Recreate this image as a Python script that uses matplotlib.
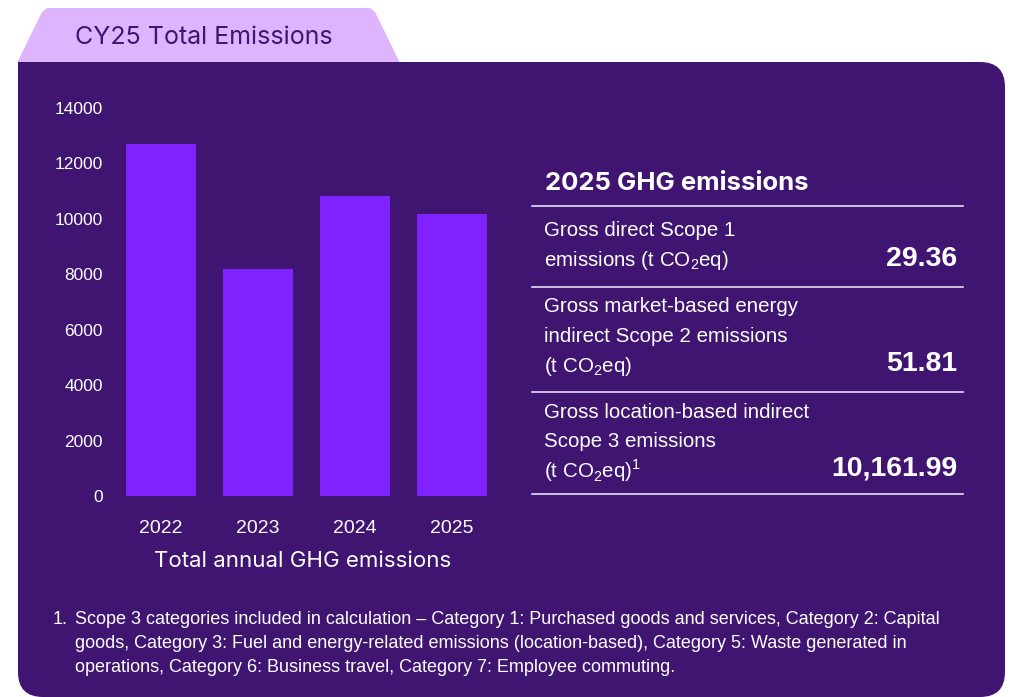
import matplotlib
matplotlib.use('Agg')
import matplotlib.pyplot as plt
from matplotlib.patches import FancyBboxPatch, Polygon, Rectangle

# data
years = ['2022', '2023', '2024', '2025']
totals = [12700, 8190, 10820, 10162]
y_ticks = [0, 2000, 4000, 6000, 8000, 10000, 12000, 14000]

row_labels = [
    ['Gross direct Scope 1', r'emissions (t CO$_\mathregular{2}$eq)'],
    ['Gross market-based energy', 'indirect Scope 2 emissions', r'(t CO$_\mathregular{2}$eq)'],
    ['Gross location-based indirect', 'Scope 3 emissions', r'(t CO$_\mathregular{2}$eq)$^\mathregular{1}$'],
]
row_values = ['29.36', '51.81', '10,161.99']

footnote = ['Scope 3 categories included in calculation \u2013 Category 1: Purchased goods and services, Category 2: Capital',
            'goods, Category 3: Fuel and energy-related emissions (location-based), Category 5: Waste generated in',
            'operations, Category 6: Business travel, Category 7: Employee commuting.']

panel_col = '#401572'
bar_col = '#7F22FE'
tab_col = '#DEB4FF'

plt.rcParams['font.family'] = ['Liberation Sans', 'DejaVu Sans']
plt.rcParams['mathtext.fontset'] = 'custom'
plt.rcParams['mathtext.rm'] = 'Liberation Sans'

W, H = 1017, 697
fig = plt.figure(figsize=(W / 100, H / 100), dpi=100)

# background in pixel coordinates
bg = fig.add_axes([0, 0, 1, 1])
bg.set_xlim(0, W)
bg.set_ylim(H, 0)
bg.axis('off')

bg.add_patch(Polygon([(17, 63), (42, 12), (47, 8), (370, 8), (375, 12), (400, 63)],
                     closed=True, facecolor=tab_col, edgecolor='none'))
bg.add_patch(FancyBboxPatch((43, 62 + 25), 1005 - 43 - 25, 697 - 62 - 50,
                            boxstyle='round,pad=25', facecolor=panel_col, edgecolor='none'))
bg.add_patch(Rectangle((18, 62), 60, 60, facecolor=panel_col, edgecolor='none'))
bg.text(75, 37, 'CY25 Total Emissions', fontsize=18, family=['Inter', 'DejaVu Sans'],
        color=panel_col, va='center', ha='left')

# bar chart
ax = fig.add_axes([112.5 / W, (H - 496) / H, 388 / W, 388 / H])
ax.set_facecolor('none')
ax.bar(range(len(years)), totals, width=0.72, color=bar_col)
ax.set_xlim(-0.5, len(years) - 0.5)
ax.set_ylim(0, 14000)
ax.set_yticks(y_ticks)
ax.set_xticks(range(len(years)))
ax.set_xticklabels(years)
for s in ax.spines.values():
    s.set_visible(False)
ax.tick_params(length=0, colors='white', labelsize=12.5)
ax.tick_params(axis='y', pad=7)
ax.tick_params(axis='x', pad=17, labelsize=14)
bg.text(303, 561, 'Total annual GHG emissions', fontsize=16, family=['Inter', 'DejaVu Sans'],
        color='white', ha='center', va='center')

# table
bg.text(545, 184, '2025 GHG emissions', fontsize=18.5, family=['Inter', 'DejaVu Sans'],
        fontweight='bold', color='white', va='center')
for y in [206, 287, 392, 494]:
    bg.plot([532, 963], [y, y], color='#E6DDF0', lw=1.2)

row_tops = [231, 307, 412]
for top, lines, val in zip(row_tops, row_labels, row_values):
    for i, line in enumerate(lines):
        bg.text(544, top + i * 29.5, line, fontsize=14.8, color='white', va='center')
    bg.text(957, top + (len(lines) - 1) * 29.5 - 2, val, fontsize=20.5, fontweight='bold',
            color='white', va='center', ha='right')

# footnote
bg.text(53, 619, '1.', fontsize=13, color='white', va='center')
for i, line in enumerate(footnote):
    bg.text(75, 619 + i * 24, line, fontsize=13, color='white', va='center')

fig.savefig('out.png', dpi=100, facecolor='white')
